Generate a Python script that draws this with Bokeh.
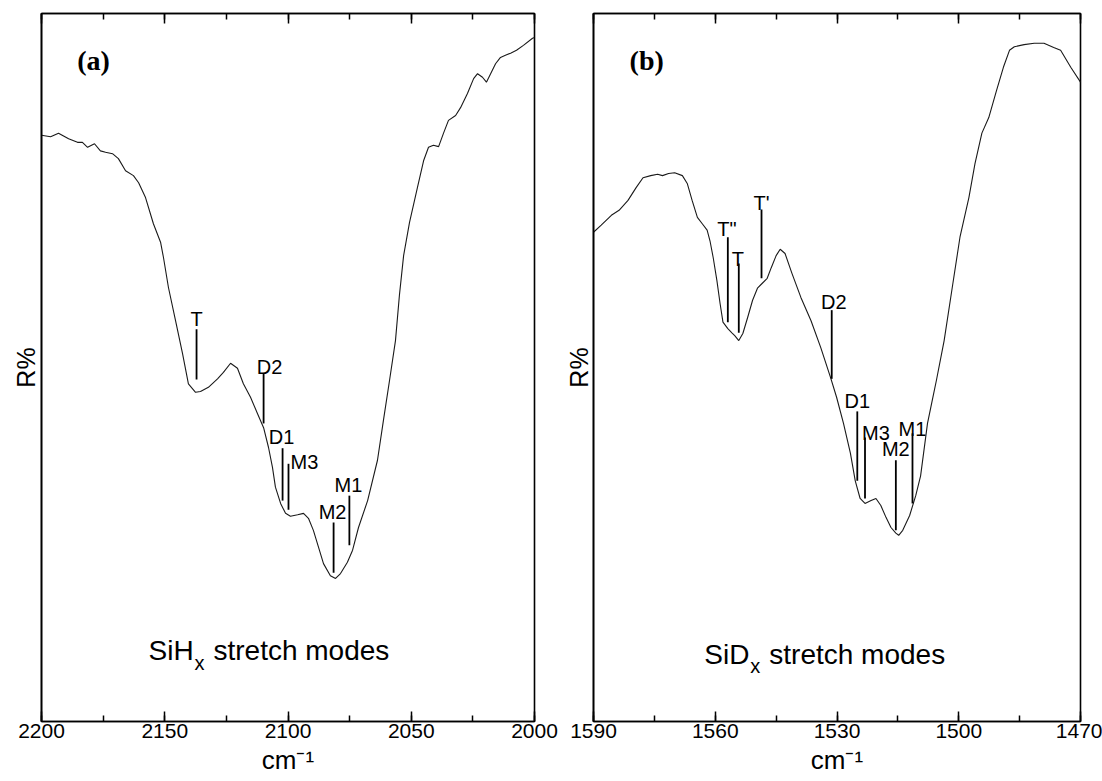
from bokeh.plotting import figure
from bokeh.models import (Range1d, SingleIntervalTicker, LinearAxis, FixedTicker,
                          ColumnDataSource, Label, CustomJSTickFormatter)
from bokeh.layouts import row
from bokeh.embed import file_html
from bokeh.resources import INLINE
from bokeh.core.properties import value

# ---------------- Panel (a): SiHx stretch modes ----------------
wn_a = [2200.0, 2196.3, 2193.1, 2189.0, 2185.4, 2183.4, 2181.3, 2178.5, 2176.1, 2174.0,
        2171.2, 2168.8, 2165.9, 2162.7, 2160.6, 2157.8, 2154.6, 2151.7, 2150.5, 2148.5,
        2145.6, 2142.8, 2140.4, 2137.5, 2135.5, 2132.3, 2128.6, 2126.2, 2123.3, 2120.5,
        2118.1, 2115.2, 2112.4, 2109.9, 2107.9, 2106.3, 2105.1, 2103.0, 2101.0, 2099.0,
        2096.1, 2093.7, 2091.7, 2089.7, 2087.6, 2085.6, 2082.8, 2080.7, 2078.7, 2075.9,
        2073.8, 2071.4, 2067.7, 2063.7, 2061.3, 2058.8, 2056.4, 2054.8, 2053.1, 2050.7,
        2047.5, 2045.0, 2043.0, 2041.0, 2038.9, 2036.9, 2034.9, 2032.0, 2030.0, 2027.2,
        2024.7, 2023.1, 2021.1, 2019.5, 2017.8, 2015.8, 2013.8, 2011.8, 2009.7, 2007.3,
        2004.5, 2000.8, 2000.0]
r_a = [82.8, 82.6, 83.1, 82.3, 81.8, 81.8, 81.1, 81.6, 80.6, 80.4,
       80.2, 79.5, 77.8, 77.1, 76.1, 74.0, 70.3, 67.7, 65.5, 61.3,
       56.6, 52.0, 47.7, 46.5, 46.6, 47.2, 48.4, 49.3, 50.6, 49.9,
       47.7, 45.8, 43.5, 41.5, 38.7, 35.9, 33.1, 30.8, 29.4, 29.0,
       29.2, 29.4, 28.7, 27.0, 24.6, 22.3, 20.6, 20.2, 20.9, 22.5,
       24.2, 27.4, 31.2, 36.9, 42.5, 48.2, 53.8, 60.2, 65.8, 70.5,
       75.4, 79.2, 81.1, 81.4, 81.2, 83.1, 84.9, 85.6, 86.7, 88.7,
       90.8, 91.5, 91.0, 90.3, 91.5, 92.9, 93.8, 94.1, 94.4, 94.8,
       95.5, 96.5, 96.6]

mark_a_names = ["T", "D2", "D1", "M3", "M2", "M1"]
mark_a_wn = [2137.1, 2109.9, 2102.2, 2099.8, 2081.5, 2075.1]
mark_a_top = [55.4, 49.2, 38.6, 36.4, 28.1, 31.9]
mark_a_bottom = [48.3, 42.1, 31.2, 29.9, 21.0, 24.9]

# ---------------- Panel (b): SiDx stretch modes ----------------
wn_b = [1590.0, 1588.1, 1585.6, 1583.7, 1581.5, 1579.5, 1577.8, 1575.9, 1574.2, 1573.0,
        1571.5, 1570.0, 1568.1, 1566.9, 1565.7, 1564.4, 1563.2, 1562.0, 1561.3, 1560.5,
        1559.6, 1558.8, 1558.1, 1556.9, 1555.9, 1555.2, 1554.2, 1553.2, 1552.0, 1550.8,
        1549.6, 1548.4, 1547.2, 1546.2, 1545.0, 1544.0, 1542.8, 1541.1, 1538.9, 1536.4,
        1534.0, 1531.6, 1530.1, 1528.4, 1526.7, 1525.5, 1524.3, 1523.1, 1521.6, 1520.4,
        1519.2, 1517.9, 1516.7, 1515.5, 1514.8, 1513.8, 1512.1, 1510.6, 1509.4, 1507.7,
        1506.3, 1505.5, 1503.6, 1501.6, 1499.7, 1497.5, 1496.0, 1494.3, 1492.6, 1490.7,
        1489.0, 1487.5, 1486.3, 1483.9, 1481.4, 1479.0, 1476.6, 1474.9, 1472.4, 1470.0]
r_b = [69.1, 70.1, 71.5, 72.2, 73.6, 75.4, 76.8, 77.1, 77.3, 77.1,
       77.4, 77.5, 77.1, 76.0, 73.6, 71.2, 70.3, 69.4, 67.9, 65.5,
       62.3, 59.0, 56.4, 55.5, 54.9, 54.5, 53.8, 54.8, 57.1, 59.5,
       61.2, 61.9, 62.6, 64.1, 65.8, 66.7, 66.1, 63.3, 59.9, 56.6,
       52.8, 48.6, 45.8, 42.1, 37.9, 34.0, 31.5, 30.8, 31.2, 31.5,
       30.5, 28.8, 27.4, 26.6, 26.3, 27.0, 29.1, 31.9, 34.7, 42.1,
       46.0, 48.2, 53.8, 61.3, 68.4, 74.0, 78.8, 83.1, 85.3, 89.1,
       92.4, 94.8, 95.3, 95.6, 95.8, 95.8, 95.2, 94.8, 92.4, 90.3]

mark_b_names = ['T"', "T", "T'", "D2", "D1", "M3", "M2", "M1"]
mark_b_wn = [1556.9, 1554.2, 1548.6, 1531.3, 1525.0, 1523.1, 1515.5, 1511.4]
mark_b_top = [68.4, 64.7, 72.3, 58.1, 43.8, 40.1, 36.9, 40.7]
mark_b_bottom = [56.4, 54.9, 62.6, 48.4, 34.0, 31.5, 27.0, 30.8]

x_title = "cm\u207b\u00b9"
y_title = "R%"

# label pixel offsets (x shift, y shift; negative y = up) - style only
off_a = [(0, -10), (6, -6), (-1, -11), (16, -2), (-1, -11), (-1, -11)]
off_b = [(-1, -8), (-1, -4), (0, -7), (2, -8), (0, -10), (11, -5), (0, -11), (0, -4)]

SANS = "Liberation Sans"
SERIF = "Liberation Serif"
H = 780


def make_panel(wn, r, names, mwn, mtop, mbot, offs, xr, interval, width,
               bl, br, tag, tag_pos, species, sp_pos, ylab_standoff):
    p = figure(width=width, height=H, x_range=Range1d(*xr), y_range=Range1d(0, 100),
               output_backend="svg", toolbar_location=None,
               min_border_left=bl, min_border_right=br, min_border_top=13,
               min_border_bottom=H - 721)
    p.background_fill_color = "white"
    p.border_fill_color = "white"
    p.xgrid.visible = False
    p.ygrid.visible = False
    p.outline_line_color = "black"
    p.outline_line_width = 1.6
    p.outline_line_alpha = 1.0

    xa = p.xaxis[0]
    xa.ticker = SingleIntervalTicker(interval=interval, num_minor_ticks=2)
    xa.major_tick_in = 10
    xa.major_tick_out = 0
    xa.minor_tick_in = 6
    xa.minor_tick_out = 0
    xa.major_tick_line_color = "black"
    xa.minor_tick_line_color = "black"
    xa.major_tick_line_width = 1.5
    xa.minor_tick_line_width = 1.5
    xa.axis_line_color = "black"
    xa.axis_line_width = 1.6
    xa.major_label_standoff = 2
    xa.major_label_text_font = SANS
    xa.major_label_text_font_size = "21px"
    xa.major_label_text_color = "black"
    xa.axis_label = x_title
    xa.axis_label_text_font = SANS
    xa.axis_label_text_font_size = "26px"
    xa.axis_label_text_font_style = "normal"
    xa.axis_label_text_color = "black"
    xa.axis_label_standoff = 4

    top = LinearAxis(ticker=SingleIntervalTicker(interval=interval, num_minor_ticks=2),
                     formatter=CustomJSTickFormatter(code="return ''"),
                     major_tick_in=10, major_tick_out=0, minor_tick_in=6, minor_tick_out=0,
                     major_tick_line_width=1.5, minor_tick_line_width=1.5,
                     axis_line_width=1.6, major_label_standoff=0,
                     major_label_text_font_size="1px")
    p.add_layout(top, "above")

    ya = p.yaxis[0]
    ya.ticker = FixedTicker(ticks=[])
    ya.major_tick_out = 0
    ya.minor_tick_out = 0
    ya.major_label_standoff = 0
    ya.axis_line_color = "black"
    ya.axis_line_width = 1.6
    ya.axis_label = y_title
    ya.axis_label_text_font = SANS
    ya.axis_label_text_font_size = "25px"
    ya.axis_label_text_font_style = "normal"
    ya.axis_label_text_color = "black"
    ya.axis_label_standoff = ylab_standoff

    # spectrum
    p.line(wn, r, line_color="#1a1a1a", line_width=1.1)

    # mode markers
    src = ColumnDataSource(dict(wn=mwn, top=mtop, bottom=mbot, name=names,
                                dx=[o[0] for o in offs], dy=[o[1] for o in offs]))
    p.segment(x0="wn", y0="bottom", x1="wn", y1="top", line_color="black",
              line_width=1.8, source=src)
    p.text(x="wn", y="top", text="name", x_offset="dx", y_offset="dy", source=src,
           text_align="center", text_baseline="alphabetic",
           text_font=value(SANS), text_font_size=value("20px"), text_color="black")

    # panel tag
    p.add_layout(Label(x=tag_pos[0], y=tag_pos[1], text=tag, text_font=SERIF,
                       text_font_style="bold", text_font_size="28px", text_color="black",
                       text_align="center", text_baseline="middle"))

    # species caption with subscript
    sx, sy = sp_pos
    p.add_layout(Label(x=sx, y=sy, text=species, text_font=SANS, text_font_size="28px",
                       text_color="black", text_align="left", text_baseline="alphabetic"))
    p.add_layout(Label(x=sx, y=sy, x_offset=46, y_offset=-12, text="x", text_font=SANS,
                       text_font_size="20px", text_color="black", text_align="left",
                       text_baseline="alphabetic"))
    p.add_layout(Label(x=sx, y=sy, x_offset=65, text="stretch modes", text_font=SANS,
                       text_font_size="28px", text_color="black", text_align="left",
                       text_baseline="alphabetic"))
    return p


p1 = make_panel(wn_a, r_a, mark_a_names, mark_a_wn, mark_a_top, mark_a_bottom, off_a,
                (2200, 2000), 50, 561, 41, 27, "(a)", (2178.9, 93.4),
                "SiH", (2156.6, 10.0), 2)
p2 = make_panel(wn_b, r_b, mark_b_names, mark_b_wn, mark_b_top, mark_b_bottom, off_b,
                (1590, 1470), 30, 541, 26, 22, "(b)", (1576.9, 93.4),
                "SiD", (1562.7, 9.5), 1)

layout = row(p1, p2, spacing=0)
open("out.html", "w").write(file_html(layout, INLINE))
